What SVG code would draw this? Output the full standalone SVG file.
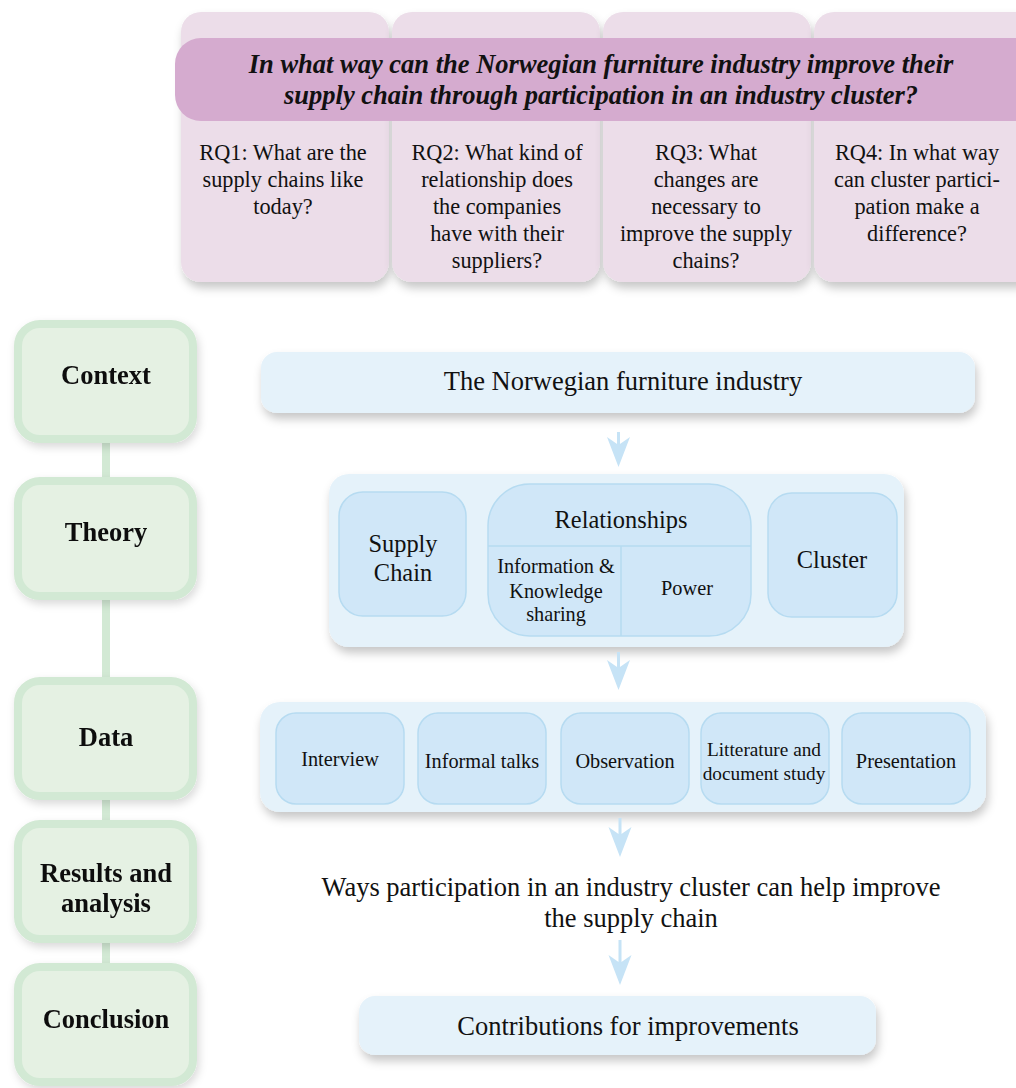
<svg xmlns="http://www.w3.org/2000/svg" width="1016" height="1088" viewBox="0 0 1016 1088">
  <defs>
    <filter id="shadow" x="-10%" y="-20%" width="125%" height="150%">
      <feDropShadow dx="2" dy="6" stdDeviation="5" flood-color="#000" flood-opacity="0.22"/>
    </filter>
    <filter id="softShadow" x="-10%" y="-20%" width="125%" height="150%">
      <feDropShadow dx="2" dy="4" stdDeviation="4" flood-color="#000" flood-opacity="0.15"/>
    </filter>
  </defs>
  <style>
    text { font-family: "Liberation Serif", "Times New Roman", serif; fill: #111; text-anchor: middle; }
    .rqCard { fill: #ecdde9; }
    .banner { fill: #d5abcf; }
    .bannerText { font-size: 26.5px; font-weight: bold; font-style: italic; }
    .rqText { font-size: 22.3px; }
    .stage { fill: #e5f1e3; stroke: #d2e9d4; stroke-width: 8; }
    .stageText { font-size: 26.5px; font-weight: bold; }
    .stageLink { stroke: #d2e9d4; stroke-width: 8; }
    .panel { fill: #e5f2fa; }
    .item { fill: #d0e7f8; stroke: #b6dbf1; stroke-width: 1.5; }
    .divider { stroke: #b6dbf1; stroke-width: 1.5; }
    .label { font-size: 26.5px; }
    .mid { font-size: 24.4px; }
    .small { font-size: 20.3px; }
    .flow { fill: #c6e3f6; }
  </style>

  <!-- Research question cards -->
  <g id="rq1" filter="url(#shadow)">
    <rect class="rqCard" x="181" y="12" width="208" height="270" rx="20"/>
  </g>
  <g id="rq2" filter="url(#shadow)">
    <rect class="rqCard" x="392" y="12" width="208" height="270" rx="20"/>
  </g>
  <g id="rq3" filter="url(#shadow)">
    <rect class="rqCard" x="603" y="12" width="208" height="270" rx="20"/>
  </g>
  <g id="rq4" filter="url(#shadow)">
    <rect class="rqCard" x="814" y="12" width="222" height="270" rx="20"/>
  </g>

  <!-- Main research question banner -->
  <g id="mainQuestion">
    <rect class="banner" x="175" y="38" width="880" height="83" rx="26"/>
    <text class="bannerText" x="601" y="73">In what way can the Norwegian furniture industry improve their</text>
    <text class="bannerText" x="601" y="104">supply chain through participation in an industry cluster?</text>
  </g>

  <g id="rqTexts">
    <text class="rqText" x="283" y="160">RQ1: What are the</text>
    <text class="rqText" x="283" y="187">supply chains like</text>
    <text class="rqText" x="283" y="214">today?</text>

    <text class="rqText" x="497" y="160">RQ2: What kind of</text>
    <text class="rqText" x="497" y="187">relationship does</text>
    <text class="rqText" x="497" y="214">the companies</text>
    <text class="rqText" x="497" y="241">have with their</text>
    <text class="rqText" x="497" y="268">suppliers?</text>

    <text class="rqText" x="706" y="160">RQ3: What</text>
    <text class="rqText" x="706" y="187">changes are</text>
    <text class="rqText" x="706" y="214">necessary to</text>
    <text class="rqText" x="706" y="241">improve the supply</text>
    <text class="rqText" x="706" y="268">chains?</text>

    <text class="rqText" x="917" y="160">RQ4: In what way</text>
    <text class="rqText" x="917" y="187">can cluster partici-</text>
    <text class="rqText" x="917" y="214">pation make a</text>
    <text class="rqText" x="917" y="241">difference?</text>
  </g>

  <!-- Stage column connectors -->
  <g id="stageLinks">
    <line class="stageLink" x1="106" y1="443" x2="106" y2="477"/>
    <line class="stageLink" x1="106" y1="600" x2="106" y2="677"/>
    <line class="stageLink" x1="106" y1="800" x2="106" y2="820"/>
    <line class="stageLink" x1="106" y1="943" x2="106" y2="963"/>
  </g>

  <!-- Stage column -->
  <g id="stageContext" filter="url(#softShadow)">
    <rect class="stage" x="18" y="324" width="175" height="115" rx="22"/>
    <text class="stageText" x="106" y="384">Context</text>
  </g>
  <g id="stageTheory" filter="url(#softShadow)">
    <rect class="stage" x="18" y="481" width="175" height="115" rx="22"/>
    <text class="stageText" x="106" y="541">Theory</text>
  </g>
  <g id="stageData" filter="url(#softShadow)">
    <rect class="stage" x="18" y="681" width="175" height="115" rx="22"/>
    <text class="stageText" x="106" y="746">Data</text>
  </g>
  <g id="stageResults" filter="url(#softShadow)">
    <rect class="stage" x="18" y="824" width="175" height="115" rx="22"/>
    <text class="stageText" x="106" y="882">Results and</text>
    <text class="stageText" x="106" y="912">analysis</text>
  </g>
  <g id="stageConclusion" filter="url(#softShadow)">
    <rect class="stage" x="18" y="967" width="175" height="115" rx="22"/>
    <text class="stageText" x="106" y="1028">Conclusion</text>
  </g>

  <!-- Context -->
  <g id="context">
    <rect class="panel" x="261" y="352" width="714" height="61" rx="16" filter="url(#shadow)"/>
    <text class="label" x="623" y="390">The Norwegian furniture industry</text>
  </g>

  <!-- Theory -->
  <g id="theory">
    <rect class="panel" x="329" y="474" width="575" height="173" rx="20" filter="url(#shadow)"/>
  </g>
  <g id="supplyChain">
    <rect class="item" x="339" y="492" width="127" height="124" rx="24"/>
    <text class="mid" x="403" y="552">Supply</text>
    <text class="mid" x="403" y="581">Chain</text>
  </g>
  <g id="relationships">
    <rect class="item" x="488" y="484" width="263" height="152" rx="42"/>
    <line class="divider" x1="488" y1="546" x2="751" y2="546"/>
    <line class="divider" x1="621" y1="546" x2="621" y2="636"/>
    <text class="mid" x="621" y="528">Relationships</text>
    <text class="small" x="556" y="573">Information &amp;</text>
    <text class="small" x="556" y="598">Knowledge</text>
    <text class="small" x="556" y="621">sharing</text>
    <text class="small" x="687" y="595">Power</text>
  </g>
  <g id="cluster">
    <rect class="item" x="768" y="493" width="129" height="124" rx="24"/>
    <text class="mid" x="832" y="568">Cluster</text>
  </g>

  <!-- Data -->
  <g id="data">
    <rect class="panel" x="260" y="702" width="726" height="110" rx="20" filter="url(#shadow)"/>
  </g>
  <g id="interview">
    <rect class="item" x="276" y="713" width="128" height="91" rx="20"/>
    <text class="small" x="340" y="766">Interview</text>
  </g>
  <g id="informalTalks">
    <rect class="item" x="418" y="713" width="128" height="91" rx="20"/>
    <text class="small" x="482" y="768">Informal talks</text>
  </g>
  <g id="observation">
    <rect class="item" x="561" y="713" width="128" height="91" rx="20"/>
    <text class="small" x="625" y="768">Observation</text>
  </g>
  <g id="literature">
    <rect class="item" x="701" y="713" width="128" height="91" rx="20"/>
    <text class="small" x="764" y="756" style="font-size:19.3px">Litterature and</text>
    <text class="small" x="764" y="780" style="font-size:19.3px">document study</text>
  </g>
  <g id="presentation">
    <rect class="item" x="842" y="713" width="128" height="91" rx="20"/>
    <text class="small" x="906" y="768">Presentation</text>
  </g>

  <!-- Results and analysis -->
  <g id="results">
    <text class="label" x="631" y="896">Ways participation in an industry cluster can help improve</text>
    <text class="label" x="631" y="927">the supply chain</text>
  </g>

  <!-- Conclusion -->
  <g id="conclusion">
    <rect class="panel" x="359" y="996" width="517" height="59" rx="16" filter="url(#shadow)"/>
    <text class="label" x="628" y="1035">Contributions for improvements</text>
  </g>

  <!-- Flow arrows: short stem with a notched head -->
  <g id="connectors" class="flow">
    <path class="flow" d="M617,432 h3 v13 h-3 Z M607,437 L618.5,445 L630,437 L618.5,467 Z"/>
    <path class="flow" d="M617,652 h3 v16 h-3 Z M607,660 L618.5,668 L630,660 L618.5,690 Z"/>
    <path class="flow" d="M618.5,818 h3 v17 h-3 Z M608.5,827 L620,835 L631.5,827 L620,857 Z"/>
    <path class="flow" d="M618.5,940 h3 v23 h-3 Z M608.5,955 L620,963 L631.5,955 L620,985 Z"/>
  </g>
</svg>
